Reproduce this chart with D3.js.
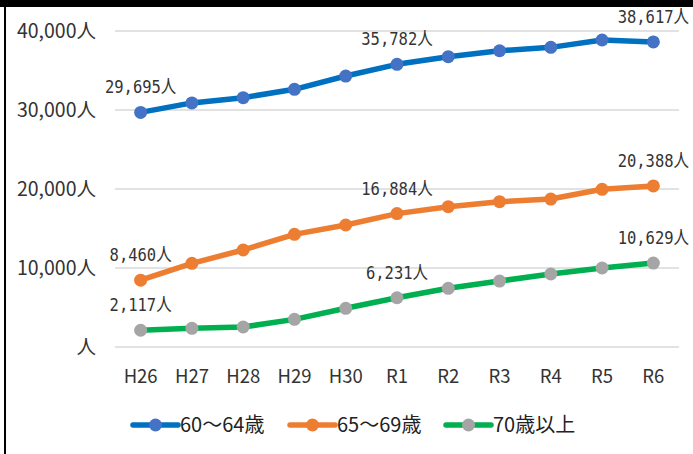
<!DOCTYPE html>
<html><head><meta charset="utf-8">
<script src="https://cdn.jsdelivr.net/npm/d3@7"></script>
<style>
html,body{margin:0;padding:0;background:#fff;}
svg{display:block;}
</style></head>
<body>
<script>
const categories = ["H26","H27","H28","H29","H30","R1","R2","R3","R4","R5","R6"];
const seriesNames = ["60～64歳","65～69歳","70歳以上"];
const age60_64 = [29695,30900,31560,32620,34300,35782,36750,37500,37930,38860,38617];
const age65_69 = [8460,10590,12280,14260,15440,16884,17760,18390,18730,19960,20388];
const age70plus = [2117,2360,2530,3500,4900,6231,7430,8350,9240,10000,10629];
const yTicks = [0,10000,20000,30000,40000];
const labelIdx = [0,5,10];
const lineColors = ["#0070C0","#ED7D31","#00B050"];
const markerColors = ["#4472C4","#ED7D31","#A5A5A5"];

const W = 693, H = 454;
const svg = d3.select("body").append("svg").attr("width",W).attr("height",H);
svg.append("rect").attr("width",W).attr("height",H).attr("fill","#fff");
// frame
svg.append("rect").attr("x",0).attr("y",0).attr("width",W).attr("height",7).attr("fill","#000");
svg.append("rect").attr("x",4).attr("y",0).attr("width",2).attr("height",H).attr("fill","#000");

const x = d3.scaleBand().domain(categories).range([115,679]);
const y = d3.scaleLinear().domain([0,40000]).range([347,31]);

const fontAxis = "'Noto Sans CJK JP','Noto Sans',sans-serif";
const fontLbl = "'DejaVu Sans Mono','Noto Sans CJK JP',monospace";

// grid
svg.append("g").selectAll("line").data(yTicks).join("line")
  .attr("x1",115).attr("x2",679)
  .attr("y1",d=>y(d)).attr("y2",d=>y(d))
  .attr("stroke","#d9d9d9").attr("stroke-width",1.5);

// y axis
const yAxis = d3.axisLeft(y).tickValues(yTicks).tickSize(0).tickPadding(0)
  .tickFormat(d => (d===0 ? "" : d3.format(",")(d)) + "人");
const gy = svg.append("g").attr("transform","translate(96,0)").call(yAxis);
gy.select(".domain").remove();
gy.selectAll("text").attr("font-family",fontAxis).attr("font-size",19.5).attr("fill","#333").attr("dy","0.35em");

// x axis
const xAxis = d3.axisBottom(x).tickSize(0).tickPadding(0);
const gx = svg.append("g").attr("transform","translate(0,377)").call(xAxis);
gx.select(".domain").remove();
gx.selectAll("text").attr("font-family",fontAxis).attr("font-size",18.5).attr("fill","#333").attr("dy","0.35em");

const allSeries = [age60_64, age65_69, age70plus];
const line = d3.line().x((d,i)=>x(categories[i])+x.bandwidth()/2).y(d=>y(d));

allSeries.forEach((vals,si)=>{
  const g = svg.append("g");
  g.append("path").datum(vals).attr("d",line).attr("fill","none")
    .attr("stroke",lineColors[si]).attr("stroke-width",5.5).attr("stroke-linejoin","round");
  g.selectAll("circle").data(vals).join("circle")
    .attr("cx",(d,i)=>x(categories[i])+x.bandwidth()/2).attr("cy",d=>y(d))
    .attr("r",6.5).attr("fill",markerColors[si]);
  g.selectAll("text").data(labelIdx).join("text")
    .attr("transform",i=>`translate(${x(categories[i])+x.bandwidth()/2},${y(vals[i])-19}) scale(1,1.18)`)
    .attr("text-anchor","middle").attr("font-family",fontLbl).attr("font-size",15.5).attr("fill","#333")
    .text(i=>d3.format(",")(vals[i])+"人");
});

// legend
const legX = [133,290,446];
seriesNames.forEach((n,si)=>{
  const g = svg.append("g").attr("transform",`translate(${legX[si]},425)`);
  g.append("line").attr("x1",0).attr("x2",45).attr("y1",0).attr("y2",0)
    .attr("stroke",lineColors[si]).attr("stroke-width",5.5).attr("stroke-linecap","round");
  g.append("circle").attr("cx",22.5).attr("cy",0).attr("r",6.5).attr("fill",markerColors[si]);
  g.append("text").attr("x",47).attr("y",0).attr("dy","0.35em")
    .attr("font-family",fontAxis).attr("font-size",20).attr("fill","#222").text(n);
});
</script>
</body></html>
